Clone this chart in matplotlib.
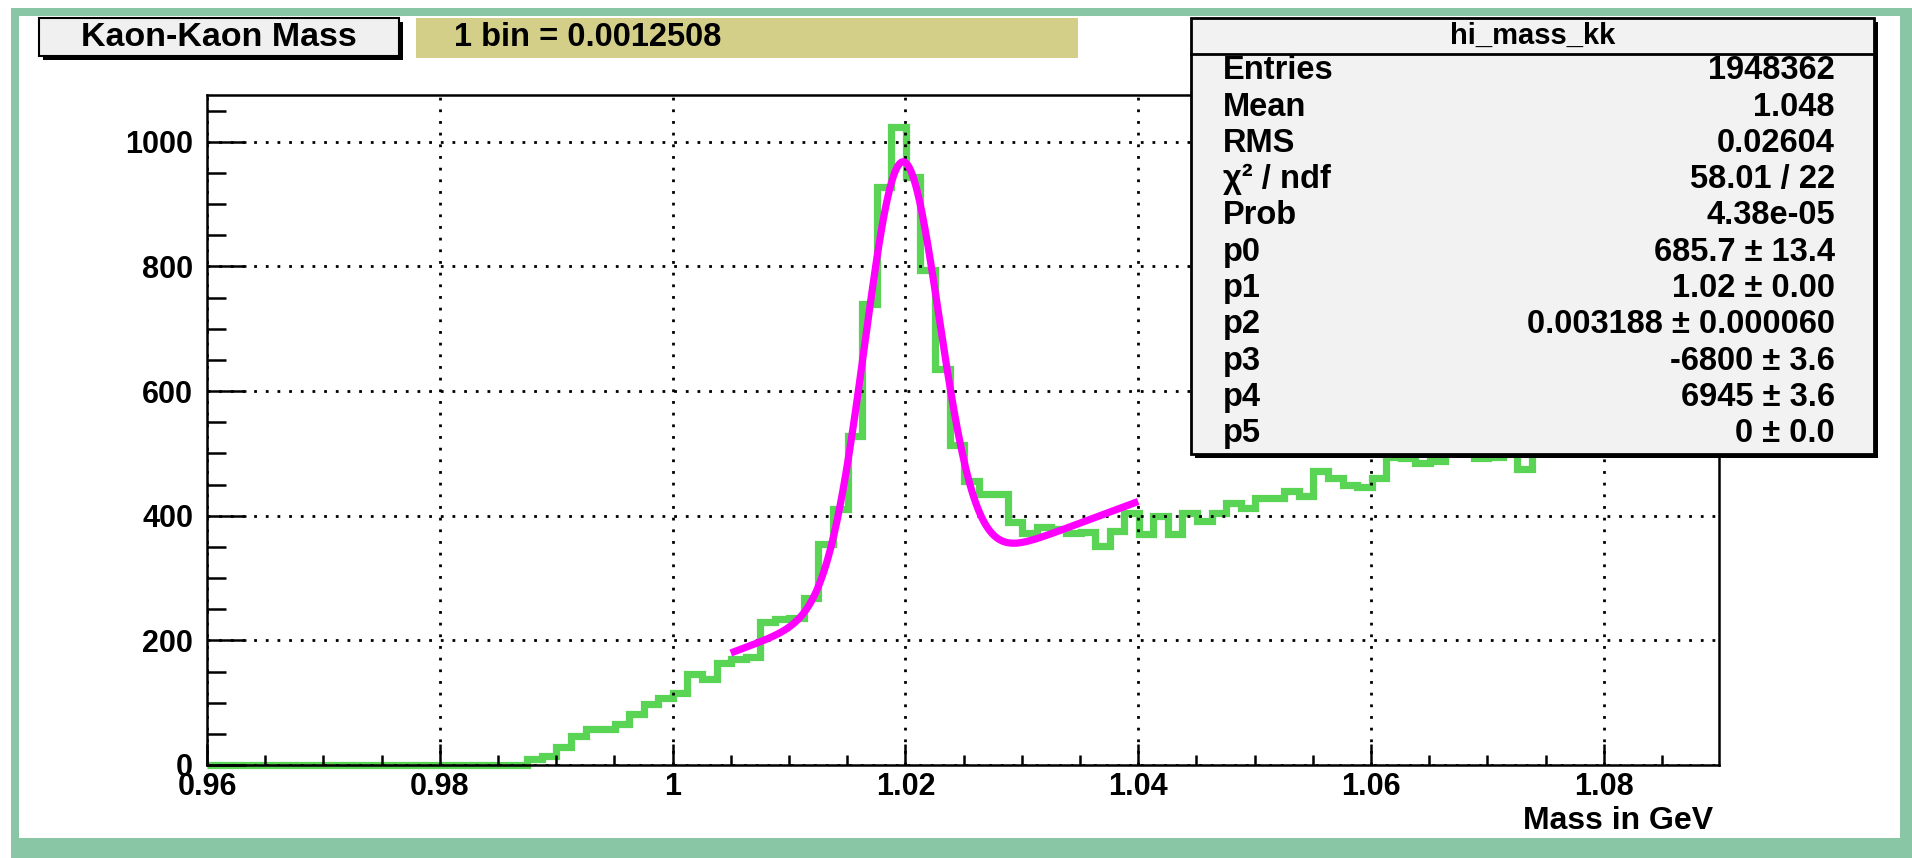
import numpy as np
import matplotlib.pyplot as plt
from matplotlib.patches import Rectangle
from matplotlib.ticker import MultipleLocator, FuncFormatter

plt.rcParams['font.family'] = ['Liberation Sans', 'DejaVu Sans']
plt.rcParams['font.weight'] = 'bold'

# histogram: 104 bins starting at 0.96, width 0.0012508
x_min = 0.96
bin_width = 0.0012508
counts = [0] * 22 + [
    9, 14, 29, 46, 57, 57, 66, 82, 98, 108,
    115, 146, 138, 163, 170, 174, 229, 235, 236, 268,
    355, 411, 528, 739, 928, 1024, 944, 794, 636, 514,
    456, 435, 435, 390, 373, 382, 378, 373, 374, 352,
    376, 404, 370, 400, 370, 404, 392, 405, 420, 412,
    429, 429, 440, 432, 472, 461, 450, 446, 460, 494,
    492, 485, 487, 508, 505, 493, 494, 510, 475,
    515, 522, 508, 527, 519, 530, 524, 512, 533, 526, 518, 529, 535,
]
edges = x_min + bin_width * np.arange(len(counts) + 1)

# fit parameters (gaus + pol2) as read from the stats box
p0, p1, p2 = 685.7, 1.0197, 0.003188
p3, p4, p5 = -6800.0, 6945.0, 0.0
fit_range = (1.005, 1.04)

stat_labels = ["Entries", "Mean", "RMS", "χ² / ndf", "Prob",
               "p0", "p1", "p2", "p3", "p4", "p5"]
stat_values = ["1948362", "1.048", "0.02604", "58.01 / 22", "4.38e-05",
               "685.7 ± 13.4", "1.02 ± 0.00", "0.003188 ± 0.000060",
               "-6800 ± 3.6", "6945 ± 3.6", "0 ± 0.0"]

W, H = 1912, 858
fig = plt.figure(figsize=(W / 100, H / 100), dpi=100)
fig.patch.set_facecolor('white')

ax = fig.add_axes([207 / W, 1 - 765 / H, (1719 - 207) / W, (765 - 95) / H])
ax.set_xlim(0.96, 1.0899)
ax.set_ylim(0, 1075)

hist = ax.stairs(counts, edges, baseline=None, color='#59d454', lw=5.2, clip_on=False)
hist.set_joinstyle('miter')

xf = np.linspace(fit_range[0], fit_range[1], 400)
yf = p0 * np.exp(-0.5 * ((xf - p1) / p2) ** 2) + p3 + p4 * xf + p5 * xf ** 2
ax.plot(xf, yf, color='#ff00ff', lw=5.2, solid_capstyle='butt', zorder=3)

ax.xaxis.set_major_locator(MultipleLocator(0.02))
ax.xaxis.set_minor_locator(MultipleLocator(0.005))
ax.yaxis.set_major_locator(MultipleLocator(200))
ax.yaxis.set_minor_locator(MultipleLocator(50))
ax.xaxis.set_major_formatter(FuncFormatter(lambda v, p: f"{v:g}"))
ax.yaxis.set_major_formatter(FuncFormatter(lambda v, p: f"{v:g}"))
ax.grid(True, which='major', color='black', linestyle=(0, (1, 3.2)), linewidth=2.0)

ax.tick_params(axis='y', which='major', direction='in', length=28, width=1.8,
               pad=10, labelsize=22)
ax.tick_params(axis='y', which='minor', direction='in', length=14, width=1.8)
ax.tick_params(axis='x', which='major', direction='in', length=15, width=1.8,
               pad=5, labelsize=22)
ax.tick_params(axis='x', which='minor', direction='in', length=7.5, width=1.8)
for s in ax.spines.values():
    s.set_linewidth(1.8)

fig.text(1713 / W, 1 - 821 / H, "Mass in GeV", ha='right', va='center', fontsize=23)

# overlay in pixel coordinates for canvas border, title boxes and stats box
ov = fig.add_axes([0, 0, 1, 1])
ov.set_xlim(0, W)
ov.set_ylim(H, 0)
ov.axis('off')

border = '#88c6a6'
for (x, y, w, h) in [(11, 8, W - 11, 8), (11, 8, 8, H - 8), (1900, 8, 12, H - 8), (11, 838, W - 11, 20)]:
    ov.add_patch(Rectangle((x, y), w, h, fc=border, ec='none'))

ov.add_patch(Rectangle((43, 22), 360, 38, fc='black', ec='none'))
ov.add_patch(Rectangle((39, 18), 360, 38, fc='#f0f0f0', ec='black', lw=1.5))
ov.text(219, 37, "Kaon-Kaon Mass", ha='center', va='center', fontsize=24.5)

ov.add_patch(Rectangle((416, 18), 662, 40, fc='#d3cf88', ec='none'))
ov.text(454, 38, "1 bin = 0.0012508", ha='left', va='center', fontsize=23.5)

ov.add_patch(Rectangle((1195, 22), 683, 436, fc='black', ec='none'))
ov.add_patch(Rectangle((1191, 18), 683, 436, fc='#f2f2f2', ec='black', lw=2))
ov.plot([1191, 1874], [54, 54], color='black', lw=2)
ov.text(1533, 36, "hi_mass_kk", ha='center', va='center', fontsize=21)
for i, (lab, val) in enumerate(zip(stat_labels, stat_values)):
    y = 70.8 + i * 36.3
    ov.text(1223, y, lab, ha='left', va='center', fontsize=23.5)
    ov.text(1835, y, val, ha='right', va='center', fontsize=23.5)

fig.savefig('out.png', dpi=100)
